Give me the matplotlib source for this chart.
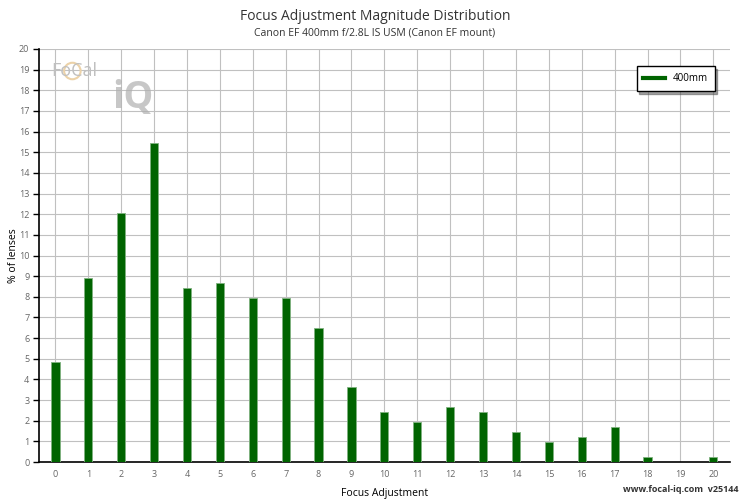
import matplotlib
matplotlib.use("Agg")
import matplotlib.pyplot as plt
from matplotlib.lines import Line2D
from matplotlib.patches import Ellipse

plt.rcParams["font.family"] = ["Open Sans", "DejaVu Sans"]

title = "Focus Adjustment Magnitude Distribution"
subtitle = "Canon EF 400mm f/2.8L IS USM (Canon EF mount)"
series = "400mm"
adjust = list(range(21))
percent = [4.84, 8.91, 12.06, 15.45, 8.43, 8.67, 7.94, 7.94, 6.49, 3.63,
           2.42, 1.94, 2.66, 2.42, 1.45, 0.97, 1.21, 1.69, 0.24, 0.0, 0.24]

fig = plt.figure(figsize=(7.5, 5), dpi=100)
ax = fig.add_axes([0.052, 0.076, 0.921, 0.826])

ax.bar(adjust, percent, width=0.25, color="#006400", edgecolor="#7fb27f",
       linewidth=0.6, zorder=3, label=series)

ax.set_xlim(-0.5, 20.5)
ax.set_ylim(0, 20)
ax.set_xticks(adjust)
ax.set_yticks(range(21))
ax.grid(True, color="#c0c0c0", linewidth=0.8, zorder=0)
ax.tick_params(axis="x", length=0, labelsize=6.5, labelcolor="#666666", pad=6)
ax.tick_params(axis="y", length=4, width=1, labelsize=6.5, labelcolor="#666666", pad=3)
for s in ["top", "right"]:
    ax.spines[s].set_visible(False)
for s in ["left", "bottom"]:
    ax.spines[s].set_color("black")
    ax.spines[s].set_linewidth(1.2)

ax.set_xlabel("Focus Adjustment", fontsize=7.5)
ax.xaxis.set_label_coords(0.5, -0.062)
ax.set_ylabel("% of lenses", fontsize=7.5)
ax.yaxis.set_label_coords(-0.029, 0.5)

fig.text(0.5, 0.967, title, ha="center", va="center", fontsize=10, color="#333333")
fig.text(0.5, 0.934, subtitle, ha="center", va="center", fontsize=7.5, color="#333333")

h = [Line2D([0], [0], color="#006400", linewidth=3)]
leg = ax.legend(h, [series], loc="upper right", bbox_to_anchor=(0.985, 0.97),
                fontsize=7, frameon=True, fancybox=False, shadow=True,
                borderpad=0.7, handlelength=2.2)
leg.get_frame().set_edgecolor("black")
leg.get_frame().set_linewidth(1)

# watermark
fig.text(0.068, 0.858, "FoCal", fontsize=13, color="#c0c0c0", va="center")
fig.patches.append(Ellipse((0.0965, 0.858), 0.022, 0.033, transform=fig.transFigure,
                           fill=False, edgecolor="#ecd2a8", linewidth=1.5))
fig.text(0.150, 0.785, "iQ", fontsize=27, color="#b0b0b0", weight="bold", alpha=0.7)

fig.text(0.985, 0.012, "www.focal-iq.com  v25144", ha="right", va="bottom",
         fontsize=6.5, weight="bold", color="#333333")

fig.savefig("out.png", dpi=100)
